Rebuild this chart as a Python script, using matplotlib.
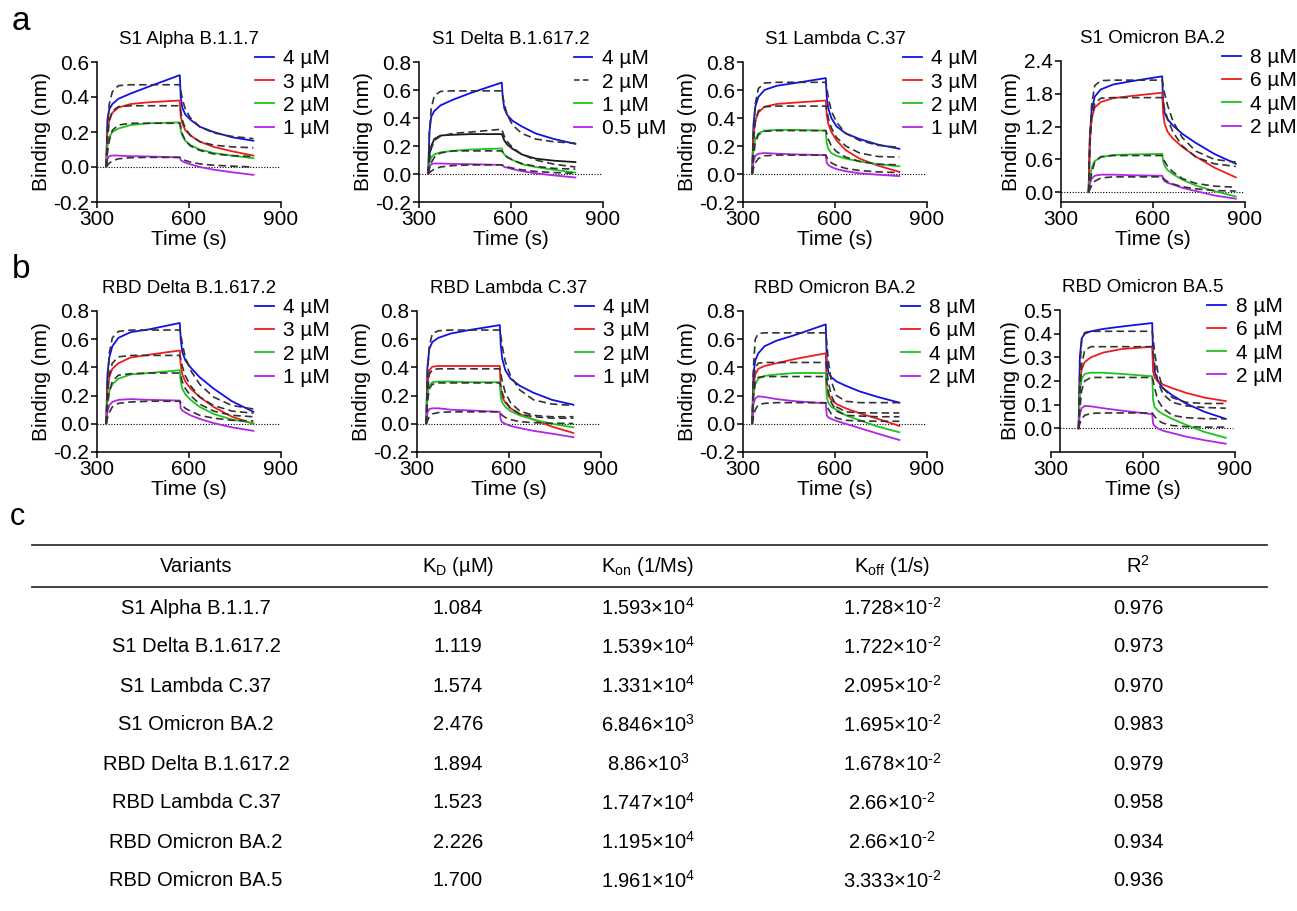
import matplotlib
matplotlib.use("Agg")
import matplotlib.pyplot as plt
from matplotlib.lines import Line2D
import numpy as np

plt.rcParams['font.family'] = ['Liberation Sans', 'DejaVu Sans']
plt.rcParams['axes.unicode_minus'] = False
plt.rcParams['mathtext.fontset'] = 'custom'
plt.rcParams['mathtext.rm'] = 'Liberation Sans'

# time offsets (s) after start of association; switch to buffer at +240
t_offsets = [0, 4, 10, 20, 40, 80, 140, 240, 243, 248, 258, 275, 305, 350, 410, 480]

titles = ["S1 Alpha B.1.1.7", "S1 Delta B.1.617.2", "S1 Lambda C.37", "S1 Omicron BA.2",
          "RBD Delta B.1.617.2", "RBD Lambda C.37", "RBD Omicron BA.2", "RBD Omicron BA.5"]
start_times = [330, 330, 330, 390, 330, 330, 330, 390]
conc_labels = [["4 µM", "3 µM", "2 µM", "1 µM"],
               ["4 µM", "2 µM", "1 µM", "0.5 µM"],
               ["4 µM", "3 µM", "2 µM", "1 µM"],
               ["8 µM", "6 µM", "4 µM", "2 µM"],
               ["4 µM", "3 µM", "2 µM", "1 µM"],
               ["4 µM", "3 µM", "2 µM", "1 µM"],
               ["8 µM", "6 µM", "4 µM", "2 µM"],
               ["8 µM", "6 µM", "4 µM", "2 µM"]]

# measured binding (nm), one row per concentration (high -> low)
s1_alpha_obs = [
    [0, 0.27, 0.33, 0.36, 0.39, 0.42, 0.46, 0.525, 0.40, 0.34, 0.30, 0.27, 0.23, 0.20, 0.17, 0.15],
    [0, 0.20, 0.27, 0.31, 0.34, 0.36, 0.37, 0.38, 0.29, 0.25, 0.21, 0.18, 0.145, 0.115, 0.09, 0.065],
    [0, 0.12, 0.17, 0.20, 0.22, 0.24, 0.25, 0.255, 0.21, 0.18, 0.15, 0.125, 0.10, 0.08, 0.065, 0.05],
    [0, 0.045, 0.062, 0.066, 0.065, 0.062, 0.06, 0.055, 0.04, 0.033, 0.025, 0.015, 0.0, -0.015, -0.03, -0.045]]
s1_alpha_fit = [
    [0, 0.22, 0.36, 0.43, 0.465, 0.47, 0.47, 0.47, 0.44, 0.39, 0.33, 0.28, 0.23, 0.195, 0.175, 0.162],
    [0, 0.15, 0.26, 0.32, 0.345, 0.35, 0.35, 0.35, 0.32, 0.27, 0.22, 0.18, 0.145, 0.125, 0.115, 0.11],
    [0, 0.08, 0.15, 0.21, 0.24, 0.25, 0.25, 0.25, 0.23, 0.19, 0.15, 0.12, 0.095, 0.075, 0.065, 0.06],
    [0, 0.01, 0.022, 0.035, 0.047, 0.053, 0.055, 0.055, 0.052, 0.045, 0.037, 0.028, 0.018, 0.01, 0.005, 0.0]]

s1_delta_obs = [
    [0, 0.30, 0.41, 0.45, 0.49, 0.53, 0.58, 0.653, 0.55, 0.47, 0.42, 0.38, 0.34, 0.29, 0.25, 0.215],
    [0, 0.14, 0.20, 0.25, 0.275, 0.28, 0.285, 0.285, 0.27, 0.24, 0.21, 0.18, 0.14, 0.11, 0.095, 0.085],
    [0, 0.08, 0.12, 0.14, 0.155, 0.165, 0.175, 0.182, 0.16, 0.14, 0.12, 0.10, 0.07, 0.05, 0.03, 0.01],
    [0, 0.05, 0.07, 0.075, 0.075, 0.072, 0.07, 0.065, 0.06, 0.05, 0.045, 0.035, 0.02, 0.005, -0.01, -0.025]]
s1_delta_fit = [
    [0, 0.30, 0.47, 0.56, 0.59, 0.594, 0.594, 0.594, 0.56, 0.50, 0.42, 0.35, 0.29, 0.25, 0.23, 0.22],
    [0, 0.10, 0.18, 0.24, 0.27, 0.29, 0.30, 0.32, 0.30, 0.27, 0.23, 0.19, 0.14, 0.10, 0.07, 0.05],
    [0, 0.04, 0.08, 0.12, 0.15, 0.165, 0.165, 0.165, 0.155, 0.14, 0.12, 0.10, 0.075, 0.055, 0.04, 0.035],
    [0, 0.01, 0.02, 0.035, 0.05, 0.06, 0.065, 0.065, 0.062, 0.057, 0.05, 0.042, 0.03, 0.018, 0.01, 0.005]]

s1_lambda_obs = [
    [0, 0.35, 0.48, 0.55, 0.60, 0.63, 0.65, 0.685, 0.55, 0.47, 0.40, 0.34, 0.29, 0.25, 0.21, 0.18],
    [0, 0.28, 0.38, 0.44, 0.48, 0.50, 0.51, 0.525, 0.42, 0.36, 0.30, 0.24, 0.17, 0.11, 0.06, 0.015],
    [0, 0.18, 0.25, 0.29, 0.31, 0.315, 0.315, 0.31, 0.22, 0.18, 0.15, 0.13, 0.11, 0.09, 0.07, 0.055],
    [0, 0.09, 0.13, 0.145, 0.15, 0.145, 0.14, 0.135, 0.08, 0.065, 0.05, 0.035, 0.02, 0.005, -0.005, -0.015]]
s1_lambda_fit = [
    [0, 0.30, 0.50, 0.61, 0.65, 0.655, 0.655, 0.655, 0.62, 0.55, 0.45, 0.37, 0.29, 0.24, 0.205, 0.19],
    [0, 0.22, 0.37, 0.45, 0.48, 0.485, 0.485, 0.485, 0.46, 0.40, 0.33, 0.26, 0.20, 0.15, 0.125, 0.12],
    [0, 0.12, 0.22, 0.28, 0.305, 0.31, 0.31, 0.31, 0.29, 0.25, 0.20, 0.16, 0.12, 0.09, 0.07, 0.065],
    [0, 0.04, 0.08, 0.11, 0.13, 0.135, 0.135, 0.135, 0.12, 0.10, 0.08, 0.06, 0.04, 0.025, 0.015, 0.01]]

s1_omicron_obs = [
    [0, 1.0, 1.5, 1.75, 1.88, 1.97, 2.03, 2.12, 1.65, 1.45, 1.33, 1.22, 1.07, 0.90, 0.70, 0.52],
    [0, 0.9, 1.35, 1.55, 1.65, 1.72, 1.76, 1.82, 1.45, 1.25, 1.10, 0.98, 0.83, 0.65, 0.45, 0.27],
    [0, 0.25, 0.45, 0.57, 0.64, 0.68, 0.69, 0.70, 0.57, 0.48, 0.40, 0.33, 0.23, 0.12, 0.02, -0.08],
    [0, 0.15, 0.25, 0.30, 0.32, 0.32, 0.31, 0.30, 0.24, 0.20, 0.17, 0.14, 0.08, 0.02, -0.06, -0.12]]
s1_omicron_fit = [
    [0, 1.0, 1.6, 1.95, 2.04, 2.05, 2.05, 2.05, 1.95, 1.80, 1.58, 1.30, 1.00, 0.75, 0.60, 0.55],
    [0, 0.85, 1.35, 1.62, 1.72, 1.73, 1.73, 1.73, 1.65, 1.52, 1.33, 1.10, 0.85, 0.64, 0.52, 0.47],
    [0, 0.15, 0.35, 0.55, 0.65, 0.67, 0.67, 0.67, 0.63, 0.56, 0.47, 0.37, 0.25, 0.16, 0.11, 0.09],
    [0, 0.05, 0.12, 0.20, 0.26, 0.28, 0.28, 0.28, 0.26, 0.23, 0.19, 0.15, 0.10, 0.06, 0.03, 0.02]]

rbd_delta_obs = [
    [0, 0.35, 0.47, 0.55, 0.61, 0.65, 0.67, 0.715, 0.60, 0.51, 0.45, 0.40, 0.33, 0.25, 0.16, 0.085],
    [0, 0.23, 0.33, 0.39, 0.43, 0.47, 0.49, 0.52, 0.42, 0.35, 0.30, 0.25, 0.19, 0.12, 0.05, 0.0],
    [0, 0.15, 0.23, 0.28, 0.32, 0.35, 0.36, 0.38, 0.30, 0.25, 0.21, 0.17, 0.12, 0.07, 0.03, 0.005],
    [0, 0.09, 0.13, 0.155, 0.17, 0.175, 0.17, 0.165, 0.11, 0.095, 0.08, 0.06, 0.035, 0.005, -0.025, -0.05]]
rbd_delta_fit = [
    [0, 0.30, 0.50, 0.61, 0.655, 0.665, 0.665, 0.665, 0.64, 0.57, 0.47, 0.38, 0.28, 0.19, 0.13, 0.105],
    [0, 0.20, 0.35, 0.43, 0.475, 0.485, 0.485, 0.485, 0.46, 0.41, 0.34, 0.27, 0.19, 0.13, 0.09, 0.075],
    [0, 0.12, 0.23, 0.30, 0.345, 0.355, 0.36, 0.36, 0.34, 0.30, 0.25, 0.20, 0.14, 0.09, 0.06, 0.05],
    [0, 0.04, 0.08, 0.12, 0.145, 0.155, 0.16, 0.16, 0.15, 0.13, 0.11, 0.09, 0.06, 0.04, 0.025, 0.02]]

rbd_lambda_obs = [
    [0, 0.40, 0.53, 0.58, 0.61, 0.64, 0.665, 0.70, 0.56, 0.46, 0.38, 0.32, 0.27, 0.22, 0.17, 0.135],
    [0, 0.28, 0.38, 0.405, 0.41, 0.41, 0.41, 0.41, 0.25, 0.19, 0.15, 0.11, 0.07, 0.03, -0.02, -0.065],
    [0, 0.20, 0.27, 0.295, 0.30, 0.30, 0.295, 0.295, 0.19, 0.15, 0.12, 0.09, 0.06, 0.03, 0.0, -0.025],
    [0, 0.08, 0.105, 0.11, 0.11, 0.10, 0.095, 0.085, 0.03, 0.01, 0.0, -0.015, -0.03, -0.05, -0.07, -0.095]]
rbd_lambda_fit = [
    [0, 0.35, 0.55, 0.64, 0.66, 0.665, 0.665, 0.665, 0.63, 0.55, 0.44, 0.34, 0.24, 0.17, 0.14, 0.13],
    [0, 0.22, 0.35, 0.385, 0.39, 0.39, 0.39, 0.39, 0.36, 0.30, 0.22, 0.15, 0.09, 0.06, 0.05, 0.05],
    [0, 0.15, 0.25, 0.28, 0.29, 0.29, 0.29, 0.29, 0.27, 0.22, 0.16, 0.11, 0.07, 0.05, 0.04, 0.04],
    [0, 0.02, 0.05, 0.07, 0.08, 0.085, 0.085, 0.085, 0.075, 0.06, 0.045, 0.03, 0.015, 0.008, 0.004, 0.002]]

rbd_omicron2_obs = [
    [0, 0.35, 0.45, 0.50, 0.55, 0.59, 0.63, 0.705, 0.45, 0.37, 0.33, 0.30, 0.27, 0.23, 0.19, 0.15],
    [0, 0.25, 0.35, 0.39, 0.41, 0.43, 0.46, 0.50, 0.25, 0.20, 0.17, 0.14, 0.11, 0.075, 0.035, -0.015],
    [0, 0.20, 0.28, 0.32, 0.34, 0.35, 0.36, 0.36, 0.19, 0.15, 0.12, 0.10, 0.06, 0.025, -0.02, -0.06],
    [0, 0.14, 0.18, 0.195, 0.19, 0.175, 0.16, 0.145, 0.06, 0.045, 0.035, 0.02, 0.0, -0.03, -0.07, -0.115]]
rbd_omicron2_fit = [
    [0, 0.40, 0.60, 0.64, 0.645, 0.645, 0.645, 0.645, 0.58, 0.45, 0.30, 0.20, 0.16, 0.15, 0.15, 0.15],
    [0, 0.28, 0.40, 0.43, 0.435, 0.435, 0.435, 0.435, 0.39, 0.30, 0.20, 0.12, 0.085, 0.078, 0.077, 0.077],
    [0, 0.20, 0.30, 0.33, 0.335, 0.335, 0.335, 0.335, 0.30, 0.23, 0.15, 0.09, 0.06, 0.055, 0.05, 0.05],
    [0, 0.05, 0.10, 0.135, 0.145, 0.15, 0.15, 0.15, 0.135, 0.105, 0.07, 0.04, 0.025, 0.02, 0.018, 0.018]]

rbd_omicron5_obs = [
    [0, 0.30, 0.38, 0.40, 0.41, 0.42, 0.43, 0.445, 0.30, 0.24, 0.20, 0.17, 0.14, 0.105, 0.07, 0.04],
    [0, 0.18, 0.25, 0.28, 0.30, 0.32, 0.335, 0.345, 0.24, 0.215, 0.20, 0.185, 0.17, 0.15, 0.13, 0.115],
    [0, 0.15, 0.21, 0.23, 0.235, 0.235, 0.23, 0.22, 0.12, 0.09, 0.075, 0.06, 0.04, 0.015, -0.015, -0.04],
    [0, 0.06, 0.085, 0.095, 0.093, 0.085, 0.075, 0.06, 0.02, 0.01, 0.0, -0.01, -0.02, -0.035, -0.05, -0.065]]
rbd_omicron5_fit = [
    [0, 0.25, 0.37, 0.405, 0.41, 0.41, 0.41, 0.41, 0.38, 0.32, 0.24, 0.17, 0.13, 0.11, 0.105, 0.105],
    [0, 0.15, 0.27, 0.33, 0.345, 0.345, 0.345, 0.345, 0.32, 0.27, 0.20, 0.145, 0.11, 0.095, 0.088, 0.085],
    [0, 0.08, 0.16, 0.20, 0.215, 0.215, 0.215, 0.215, 0.20, 0.17, 0.12, 0.085, 0.055, 0.045, 0.041, 0.04],
    [0, 0.02, 0.04, 0.055, 0.063, 0.065, 0.065, 0.065, 0.06, 0.05, 0.035, 0.022, 0.012, 0.007, 0.005, 0.005]]

observed = [s1_alpha_obs, s1_delta_obs, s1_lambda_obs, s1_omicron_obs,
            rbd_delta_obs, rbd_lambda_obs, rbd_omicron2_obs, rbd_omicron5_obs]
fitted = [s1_alpha_fit, s1_delta_fit, s1_lambda_fit, s1_omicron_fit,
          rbd_delta_fit, rbd_lambda_fit, rbd_omicron2_fit, rbd_omicron5_fit]

y_ticks = [[-0.2, 0.0, 0.2, 0.4, 0.6],
           [-0.2, 0.0, 0.2, 0.4, 0.6, 0.8],
           [-0.2, 0.0, 0.2, 0.4, 0.6, 0.8],
           [0.0, 0.6, 1.2, 1.8, 2.4],
           [-0.2, 0.0, 0.2, 0.4, 0.6, 0.8],
           [-0.2, 0.0, 0.2, 0.4, 0.6, 0.8],
           [-0.2, 0.0, 0.2, 0.4, 0.6, 0.8],
           [0.0, 0.1, 0.2, 0.3, 0.4, 0.5]]
y_limits = [(-0.2, 0.6), (-0.2, 0.8), (-0.2, 0.8), (-0.18, 2.4),
            (-0.2, 0.8), (-0.2, 0.8), (-0.2, 0.8), (-0.1, 0.5)]

# table
variants = titles
kd_values = ["1.084", "1.119", "1.574", "2.476", "1.894", "1.523", "2.226", "1.700"]
kon_values = [r"1.593×10$^{\mathregular{4}}$", r"1.539×10$^{\mathregular{4}}$", r"1.331×10$^{\mathregular{4}}$",
              r"6.846×10$^{\mathregular{3}}$", r"8.86×10$^{\mathregular{3}}$", r"1.747×10$^{\mathregular{4}}$",
              r"1.195×10$^{\mathregular{4}}$", r"1.961×10$^{\mathregular{4}}$"]
koff_values = [r"1.728×10$^{\text{-2}}$", r"1.722×10$^{\text{-2}}$", r"2.095×10$^{\text{-2}}$",
               r"1.695×10$^{\text{-2}}$", r"1.678×10$^{\text{-2}}$", r"2.66×10$^{\text{-2}}$",
               r"2.66×10$^{\text{-2}}$", r"3.333×10$^{\text{-2}}$"]
r2_values = ["0.976", "0.973", "0.970", "0.983", "0.979", "0.958", "0.934", "0.936"]
headers = ["Variants", r"K$_{\mathregular{D}}$ (µM)", r"K$_{\mathregular{on}}$ (1/Ms)",
           r"K$_{\mathregular{off}}$ (1/s)", r"R$^{\mathregular{2}}$"]

colors = ["#1010e8", "#ee1c1c", "#1dc41d", "#b424e6"]
W, H = 1297, 911
fig = plt.figure(figsize=(W / 100, H / 100), dpi=100)

ax_left_px = [97, 419, 743, 1061, 97, 417, 743, 1051]
ax_top_px = [62, 62, 62, 61, 311, 311, 311, 310]
ax_bot_px = [202, 202, 202, 202, 452, 452, 452, 452]
leg_x = [0.86, 0.84, 0.87, 0.875, 0.86, 0.86, 0.86, 0.85]

for i in range(8):
    l, t, b = ax_left_px[i], ax_top_px[i], ax_bot_px[i]
    ax = fig.add_axes([l / W, 1 - b / H, 184 / W, (b - t) / H])
    times = np.array(t_offsets) + start_times[i]
    ax.plot([300 if i != 7 else 330, 895], [0, 0], ls=(0, (1, 1.5)), color="k", lw=0.8)
    handles = []
    for j in range(4):
        c = colors[j]
        if i == 1 and j == 1:
            c = "#1a1a1a"
        ax.plot(times, observed[i][j], color=c, lw=1.3)
        if i == 1 and j == 1:
            handles.append(Line2D([], [], color="#444444", lw=1.3, ls=(0, (3, 2))))
        else:
            handles.append(Line2D([], [], color=c, lw=1.3))
    for j in range(4):
        ax.plot(times, fitted[i][j], color="#333333", lw=1.2, ls=(0, (4.5, 2.5)))
    ax.set_xlim(300, 900)
    ax.set_ylim(*y_limits[i])
    ax.set_xticks([300, 600, 900])
    ax.set_yticks(y_ticks[i])
    ax.set_yticklabels([f"{v:.1f}" for v in y_ticks[i]])
    for s in ["top", "right"]:
        ax.spines[s].set_visible(False)
    for s in ["left", "bottom"]:
        ax.spines[s].set_linewidth(1.1)
    if i == 7:
        ax.spines["left"].set_position(("data", 328))
    ax.tick_params(direction="out", length=4, width=1.1, labelsize=15, pad=1.5)
    ax.set_xlabel("Time (s)", fontsize=15, labelpad=1)
    ax.set_ylabel("Binding (nm)", fontsize=15, labelpad=2)
    ax.set_title(titles[i], fontsize=13.5, pad=13)
    ax.legend(handles, conc_labels[i], loc="upper left", bbox_to_anchor=(leg_x[i], 1.09),
              frameon=False, fontsize=15, handlelength=0.9, handletextpad=0.45,
              labelspacing=0.2, borderpad=0, borderaxespad=0)

fig.text(12 / W, 1 - 22 / H, "a", fontsize=24, va="center")
fig.text(12 / W, 1 - 270 / H, "b", fontsize=24, va="center")
fig.text(10 / W, 1 - 517 / H, "c", fontsize=22, va="center")

# table lines
line_y = [545, 587]
for y in line_y:
    fig.add_artist(Line2D([32 / W, 1267 / W], [1 - y / H, 1 - y / H], color="#333333", lw=1.3))

col_x = [196, 458, 648, 892, 1138]
for k, h in enumerate(headers):
    fig.text(col_x[k] / W, 1 - 566 / H, h, fontsize=14.5, ha="center", va="center")
columns = [variants, kd_values, kon_values, koff_values, r2_values]
for r in range(8):
    y = 608 + 39 * r
    for k, col in enumerate(columns):
        fig.text(col_x[k] / W, 1 - y / H, col[r], fontsize=14.5, ha="center", va="center")

fig.savefig("out.png", dpi=100)
